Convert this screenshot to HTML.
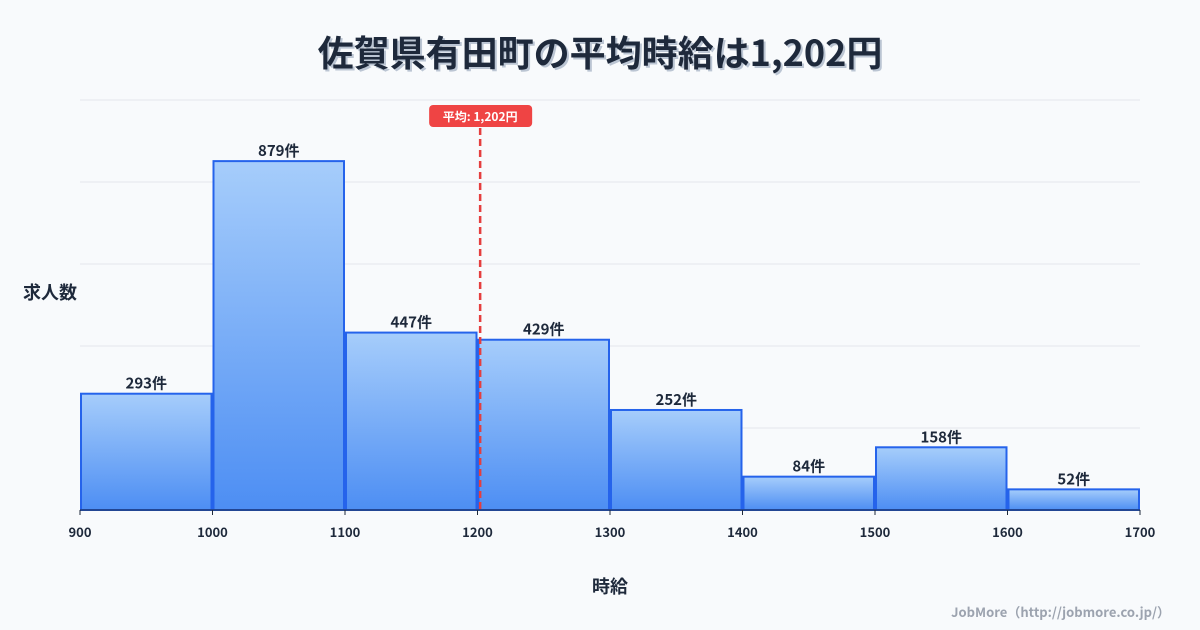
<!DOCTYPE html>
<html><head><meta charset="utf-8">
<style>
body{margin:0;background:#f8fafc;font-family:"Noto Sans CJK JP","Liberation Sans",sans-serif;}
#wrap{position:relative;width:1200px;height:630px;overflow:hidden;background:#f8fafc;}
svg text{font-family:"Noto Sans CJK JP","Liberation Sans",sans-serif;}
</style></head>
<body>
<div id="wrap">
<svg id="chart" width="1200" height="630" xmlns="http://www.w3.org/2000/svg">
<defs>
<linearGradient id="g" x1="0" y1="0" x2="0" y2="1">
<stop offset="0" stop-color="#a6cdfb"/><stop offset="1" stop-color="#4d8ef3"/>
</linearGradient>
</defs>
<text x="600" y="66" text-anchor="middle" font-size="36" font-weight="bold" fill="#94a3b8" opacity="0.6" transform="translate(2,2)">佐賀県有田町の平均時給は1,202円</text>
<text x="600" y="66" text-anchor="middle" font-size="36" font-weight="bold" fill="#1e293b">佐賀県有田町の平均時給は1,202円</text>
<g id="grid"></g>
<g id="bars"></g>
<g id="xticks"></g>
<text x="50" y="299" text-anchor="middle" font-size="18" font-weight="bold" fill="#1e293b">求人数</text>
<text x="610" y="593" text-anchor="middle" font-size="18" font-weight="bold" fill="#1e293b">時給</text>
<text x="1170" y="617" text-anchor="end" font-size="13" font-weight="bold" fill="#9ca3af">JobMore（http://jobmore.co.jp/）</text>
<g id="avg"></g>
</svg>
</div>
<script>
const binStarts=[900,1000,1100,1200,1300,1400,1500,1600];
const binEnds=[1000,1100,1200,1300,1400,1500,1600,1700];
const counts=[293,879,447,429,252,84,158,52];
const xTicks=[900,1000,1100,1200,1300,1400,1500,1600,1700];
const avgValue=1202;
const yMax=1033;
const NS="http://www.w3.org/2000/svg";
const L=80,R=1140,T=100,B=510;
const xs=v=>L+(v-900)/800*(R-L);
const ys=v=>B-v/yMax*(B-T);
function mk(tag,attrs,parent){const e=document.createElementNS(NS,tag);for(const k in attrs)e.setAttribute(k,attrs[k]);parent.appendChild(e);return e;}
const grid=document.getElementById('grid');
for(let i=0;i<=5;i++){const y=T+i*(B-T)/5;
const l=mk('line',{x1:L,x2:R,y1:y,y2:y,stroke:'#e5e7eb','stroke-width':1},grid);

}
const bars=document.getElementById('bars');
counts.forEach((c,i)=>{
const x0=xs(binStarts[i])+1,x1=xs(binEnds[i])-1,y=ys(c);
const r=mk('rect',{x:x0,y:y,width:x1-x0,height:B-y,fill:'url(#g)',stroke:'#2563eb','stroke-width':2},bars);


const t=mk('text',{x:(x0+x1)/2,y:y-5,'text-anchor':'middle','font-size':15,'font-weight':'bold',fill:'#1e293b'},bars);
t.textContent=c+'件';


});
const xt=document.getElementById('xticks');
mk('line',{x1:L,x2:R,y1:B,y2:B,stroke:'#1e293b','stroke-width':1},xt);
xTicks.forEach(v=>{
const x=xs(v);
mk('line',{x1:x,x2:x,y1:B,y2:B+5,stroke:'#1e293b'},xt);
const t=mk('text',{x:x,y:537,'text-anchor':'middle','font-size':13,'font-weight':'bold',fill:'#1e293b'},xt);
t.textContent=v;


});
const avg=document.getElementById('avg');
const ax=xs(avgValue);
const al=mk('line',{x1:ax,x2:ax,y1:128,y2:B,stroke:'#e53e3e','stroke-width':2.5,'stroke-dasharray':'7,4'},avg);


const ab=mk('rect',{x:ax-51,y:105,width:103,height:22,rx:4,fill:'#ef4444'},avg);


const at=mk('text',{x:ax,y:121,'text-anchor':'middle','font-size':12,'font-weight':'bold',fill:'#fff'},avg);
at.textContent='平均: '+avgValue.toLocaleString('en-US')+'円';


</script>
</body></html>
